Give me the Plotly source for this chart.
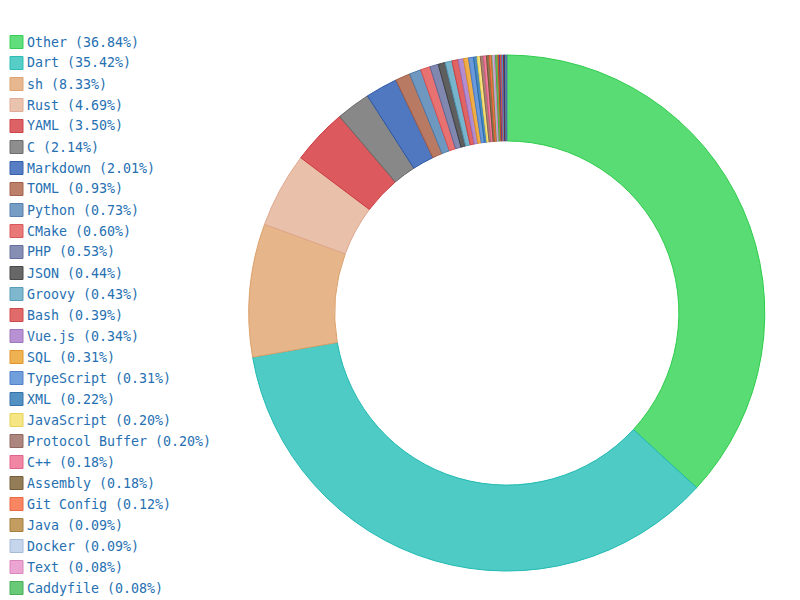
import plotly.graph_objects as go

languages = ["Other", "Dart", "sh", "Rust", "YAML", "C", "Markdown", "TOML", "Python",
             "CMake", "PHP", "JSON", "Groovy", "Bash", "Vue.js", "SQL", "TypeScript",
             "XML", "JavaScript", "Protocol Buffer", "C++", "Assembly", "Git Config",
             "Java", "Docker", "Text", "Caddyfile",
             "Makefile", "HTML", "CSS", "Swift", "Kotlin", "Go", "Ruby", "Lua", "Perl", "INI", "Nix"]
percent = [36.84, 35.42, 8.33, 4.69, 3.50, 2.14, 2.01, 0.93, 0.73,
           0.60, 0.53, 0.44, 0.43, 0.39, 0.34, 0.31, 0.31,
           0.22, 0.20, 0.20, 0.18, 0.18, 0.12,
           0.09, 0.09, 0.08, 0.08,
           0.08, 0.08, 0.07, 0.07, 0.06, 0.06, 0.05, 0.05, 0.04, 0.03, 0.03]
fill_colors = ["#5adc74", "#4ecbc4", "#e6b58a", "#e9c0aa", "#dc5a5e", "#888888", "#4f78c0",
               "#b97a63", "#6f98c0", "#e87272", "#8088b0", "#5f5f5f", "#78b4cc", "#e06464",
               "#b48cd0", "#efae4a", "#6a9ada", "#4a8cc0", "#f5e47e", "#a88078", "#f07fa0",
               "#8e7650", "#f8805a", "#c09858", "#c2d4ec", "#eba0d0", "#60c870",
               "#a0c060", "#e86040", "#7060b0", "#f08050", "#a070e0", "#60c0d0", "#c04040",
               "#4060a0", "#5080a0", "#b0b0b0", "#7090d0"]
line_colors = ["#2ecc4c", "#20bab2", "#dca06a", "#e0a890", "#cc3a40", "#666666", "#2f58a8",
               "#a05a44", "#4f7aa8", "#d85050", "#606898", "#404040", "#5098b4", "#cc4040",
               "#9870b8", "#e09020", "#4a7ac8", "#2a6ca8", "#e8d050", "#8c6058", "#e05c84",
               "#6e5630", "#e86038", "#a07838", "#a2b8d8", "#d880b8", "#40a850",
               "#80a040", "#c84020", "#504090", "#d06030", "#8050c0", "#40a0b0", "#a02020",
               "#204080", "#306080", "#909090", "#5070b0"]

legend_labels = [f"{n} ({p:.2f}%)" for n, p in zip(languages, percent)]

W, H = 800, 600

fig = go.Figure(go.Pie(
    labels=legend_labels,
    values=percent,
    hole=0.667,
    sort=False,
    direction="clockwise",
    rotation=0,
    textinfo="none",
    showlegend=False,
    marker=dict(colors=fill_colors, line=dict(color=line_colors, width=1)),
    domain=dict(x=[0.311, 0.956], y=[0.0483, 0.9083]),
))

# Legend drawn as annotations + swatches (entries that fit in the window)
top_px, step_px, box = 42, 21, 13
for i, (lab, fc, lc) in enumerate(zip(legend_labels, fill_colors, line_colors)):
    yc = top_px + i * step_px
    if yc + 7 > H:
        break
    fig.add_shape(type="rect", xref="paper", yref="paper",
                  x0=10 / W, x1=(10 + box) / W,
                  y0=1 - (yc - box / 2) / H, y1=1 - (yc + box / 2) / H,
                  fillcolor=fc, opacity=0.95, line=dict(color=lc, width=1))
    fig.add_annotation(x=25 / W, y=1 - yc / H, xref="paper", yref="paper",
                       text=lab, showarrow=False, xanchor="left", yanchor="middle",
                       font=dict(family="DejaVu Sans Mono", size=13.3, color="#2670b2"))

fig.update_layout(
    width=W, height=H,
    margin=dict(l=0, r=0, t=0, b=0),
    paper_bgcolor="white",
    plot_bgcolor="white",
    showlegend=False,
)

fig.write_html("out.html")
